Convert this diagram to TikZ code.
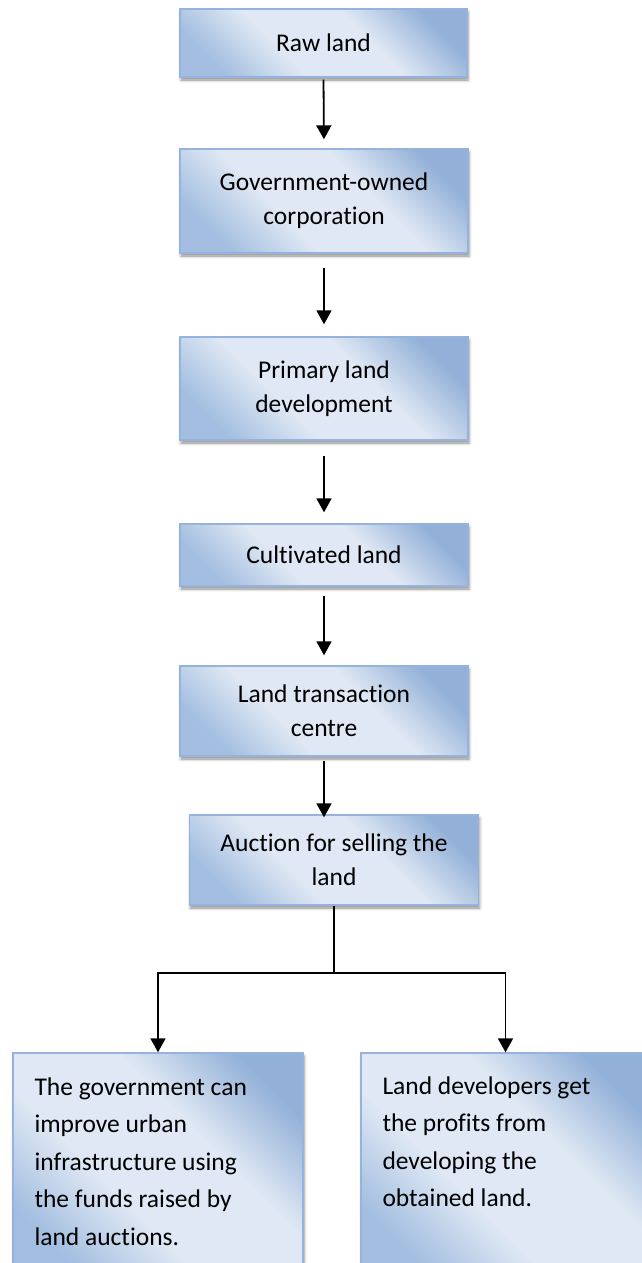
\documentclass[tikz,border=0pt]{standalone}
\usepackage{fontspec}
\setmainfont{Carlito}[Ligatures=NoCommon]
\usetikzlibrary{arrows.meta,shadows.blur,calc}
\definecolor{bdark}{HTML}{93B1D8}
\definecolor{bdarkb}{HTML}{A3BEE0}
\definecolor{blight}{HTML}{DFE8F4}
\definecolor{bborder}{HTML}{95B3DC}
\pgfdeclareverticalshading{boxshade}{100bp}{color(0bp)=(bdarkb); color(24bp)=(bdarkb); color(40bp)=(blight); color(60bp)=(blight); color(76bp)=(bdark); color(100bp)=(bdark)}
\begin{document}
\begin{tikzpicture}[x=1pt,y=-1pt,
  box/.style={draw=bborder, line width=1.4pt, rectangle, inner sep=0pt,
    shading=boxshade, shading angle=-45,
    blur shadow={shadow xshift=1pt, shadow yshift=-3pt, shadow opacity=45, shadow blur radius=3pt},
    align=center, font=\fontsize{25.5}{34}\selectfont},
  txt/.style={inner sep=0pt, align=left, font=\fontsize{25.5}{37.5}\selectfont},
  conn/.style={line width=1.8pt, black},
  arr/.style={conn, -{Triangle[length=14pt,width=15pt]}}]
\useasboundingbox (0,0) rectangle (641,1263);
\node[box, minimum width=287, minimum height=68] (raw) at (323.5,43) {Raw land};
\node[box, minimum width=288, minimum height=104] (gov) at (324,201) {Government-owned\\corporation};
\node[box, minimum width=288, minimum height=103] (prim) at (324,388.5) {Primary land\\development};
\node[box, minimum width=288, minimum height=62] (cult) at (324,555) {Cultivated land};
\node[box, minimum width=288, minimum height=90] (trans) at (324,711) {Land transaction\\centre};
\node[box, minimum width=289, minimum height=90] (auction) at (334,860) {Auction for selling the\\land};
\node[box, minimum width=290, minimum height=220] (left) at (158,1163) {};
\node[box, minimum width=289, minimum height=220] (right) at (505.5,1163) {};
\node[txt, anchor=north west] (lefttext) at ($(left.north west)+(22,25)$)
  {The government can\\improve urban\\infrastructure using\\the funds raised by\\land auctions.};
\node[txt, anchor=north west] (righttext) at ($(right.north west)+(22,24)$)
  {Land developers get\\the profits from\\developing the\\obtained land.};
\coordinate (split) at (334,973);
\draw[arr, shorten <=2pt, shorten >=9pt] (raw.south) -- (gov.north);
\draw[arr, shorten <=14pt, shorten >=12pt] (gov.south) -- (prim.north);
\draw[arr, shorten <=15pt, shorten >=11pt] (prim.south) -- (cult.north);
\draw[arr, shorten <=9pt, shorten >=10pt] (cult.south) -- (trans.north);
\draw[arr, shorten <=4pt, shorten >=-3pt] (trans.south) -- (trans.south |- auction.north);
\draw[conn] (auction.south) -- (split);
\draw[arr] (split) -| (left.north);
\draw[arr] (split) -| (right.north);
\end{tikzpicture}
\end{document}
